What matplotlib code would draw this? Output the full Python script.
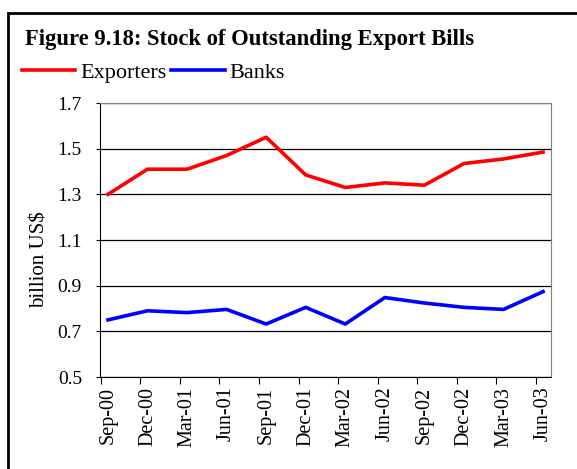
import numpy as np
import matplotlib.pyplot as plt
from matplotlib.patches import Rectangle
from matplotlib.lines import Line2D

plt.rcParams['font.family'] = ['Liberation Serif', 'DejaVu Serif']

quarters = ['Sep-00', 'Dec-00', 'Mar-01', 'Jun-01', 'Sep-01', 'Dec-01',
            'Mar-02', 'Jun-02', 'Sep-02', 'Dec-02', 'Mar-03', 'Jun-03']
exporters = [1.30, 1.41, 1.41, 1.47, 1.55, 1.385, 1.33, 1.35, 1.34, 1.435, 1.455, 1.485]
banks = [0.75, 0.79, 0.782, 0.796, 0.732, 0.805, 0.732, 0.848, 0.824, 0.805, 0.796, 0.874]

fig = plt.figure(figsize=(5.77, 4.69), dpi=100)
ax = fig.add_axes([100 / 577, 1 - 377 / 469, 451 / 577, 274 / 469])

x = np.arange(len(quarters))
ax.plot(x, exporters, color='#ff0000', lw=2.6, solid_joinstyle='round')
ax.plot(x, banks, color='#0000ff', lw=2.6, solid_joinstyle='round')

ax.set_xlim(-0.2, 11.2)
ax.set_ylim(0.5, 1.7)
yt = np.arange(0.5, 1.71, 0.2)
ax.set_yticks(yt)
ax.set_yticklabels(['%.1f' % v for v in yt], fontsize=14)
ax.yaxis.grid(True, color='black', lw=0.9)

# tick marks sit between the labels, labels under the points
ax.set_xticks(x - 0.18)
ax.set_xticklabels([])
ax.set_xticks(x, minor=True)
ax.set_xticklabels(quarters, minor=True, rotation=90, fontsize=14.5)
ax.tick_params(axis='x', which='major', length=5, direction='out', width=0.8)
ax.tick_params(axis='x', which='minor', length=0, pad=7)
ax.tick_params(axis='y', length=3, direction='out', width=0.8, pad=10)

for s in ['top', 'right']:
    ax.spines[s].set_color('#808080')
for s in ['left', 'bottom']:
    ax.spines[s].set_color('black')
ax.set_ylabel('billion US$', fontsize=15)
ax.yaxis.set_label_coords(-50 / 451, (377 - 260) / 274)

fig.patches.append(Rectangle((8 / 577, -0.1), 0.99, 1 - 13 / 469 + 0.1,
                             transform=fig.transFigure, fill=False,
                             edgecolor='black', lw=2))
fig.text(25 / 577, 1 - 40 / 469, 'Figure 9.18: Stock of Outstanding Export Bills',
         fontsize=16.3, fontweight='bold', va='center', ha='left')

handles = [Line2D([], [], color='#ff0000', lw=2.6),
           Line2D([], [], color='#0000ff', lw=2.6)]
fig.legend(handles, ['Exporters', 'Banks'], loc='center left',
           bbox_to_anchor=(22 / 577, 1 - 73 / 469), ncol=2, frameon=False,
           fontsize=16, handlelength=2.4, handletextpad=0.22, columnspacing=0.22,
           borderpad=0, borderaxespad=0)

fig.savefig('out.png', dpi=100)
